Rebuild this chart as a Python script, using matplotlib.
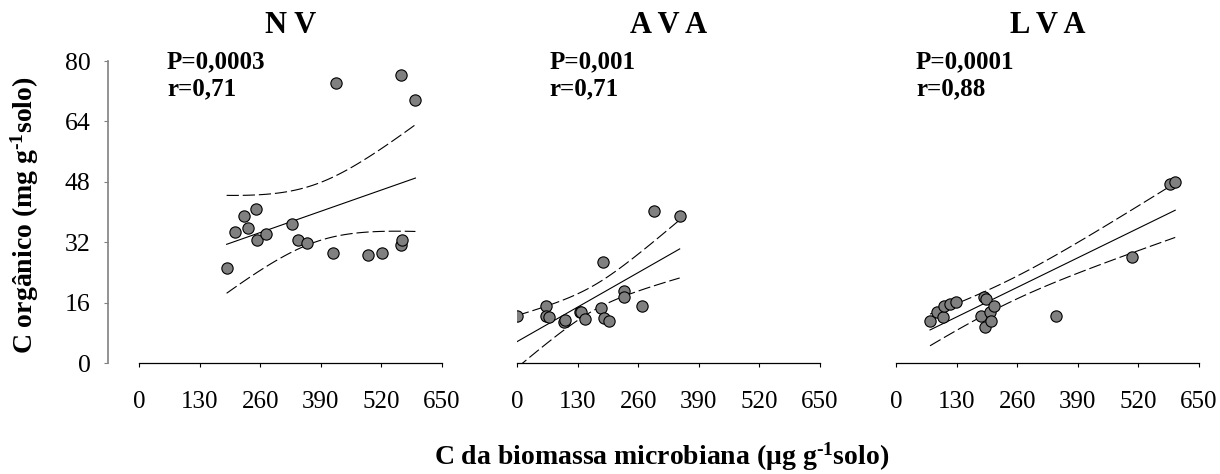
import numpy as np
import matplotlib
matplotlib.use('Agg')
import matplotlib.pyplot as plt

plt.rcParams['font.family'] = ['Liberation Serif', 'DejaVu Serif']
plt.rcParams['mathtext.fontset'] = 'custom'
plt.rcParams['mathtext.rm'] = 'Liberation Serif:bold'
plt.rcParams['mathtext.bf'] = 'Liberation Serif:bold'
plt.rcParams['mathtext.default'] = 'bf'

# --- data ---
titles = ['N V', 'A V A', 'L V A']
p_labels = ['P=0,0003', 'P=0,001', 'P=0,0001']
r_labels = ['r=0,71', 'r=0,71', 'r=0,88']

nv_x = [188, 206, 226, 233, 252, 254, 272, 329, 341, 361, 416, 422, 491, 522, 563, 565, 563, 593]
nv_y = [25.2, 34.7, 39.0, 35.7, 40.7, 32.6, 34.1, 36.8, 32.5, 31.7, 29.1, 74.2, 28.5, 29.1, 31.2, 32.5, 76.4, 69.8]

ava_x = [0, 62, 62, 68, 100, 103, 135, 138, 146, 180, 185, 187, 198, 229, 230, 268, 294, 349]
ava_y = [12.4, 15.1, 12.4, 12.3, 10.8, 11.3, 13.5, 13.4, 11.7, 14.7, 26.8, 11.8, 11.2, 19.1, 17.5, 15.1, 40.2, 39.0]

lva_x = [73, 89, 100, 103, 115, 129, 182, 188, 190, 193, 202, 204, 211, 344, 506, 587, 599]
lva_y = [11.2, 13.5, 12.3, 15.2, 15.7, 16.2, 12.4, 17.5, 9.5, 17.0, 13.5, 11.2, 15.2, 12.4, 28.0, 47.4, 47.9]

x_ticks = [0, 130, 260, 390, 520, 650]
y_ticks = [0, 16, 32, 48, 64, 80]
t_crit = [2.120, 2.120, 2.131]  # 95% t values for n-2 df

panels = [(nv_x, nv_y), (ava_x, ava_y), (lva_x, lva_y)]

fig = plt.figure(figsize=(12.2, 4.74), dpi=100)
W, H = 1220, 474
lefts = [139, 517, 896]
text_x = [0.092, 0.106, 0.066]

for i, (xs, ys) in enumerate(panels):
    ax = fig.add_axes([lefts[i] / W, (H - 363) / H, 303 / W, 302 / H])
    xs = np.array(xs, dtype=float)
    ys = np.array(ys, dtype=float)

    # linear fit with 95% confidence band
    slope, icpt = np.polyfit(xs, ys, 1)
    n = len(xs)
    resid = ys - (slope * xs + icpt)
    s = np.sqrt(np.sum(resid ** 2) / (n - 2))
    sxx = np.sum((xs - xs.mean()) ** 2)
    xf = np.linspace(xs.min(), xs.max(), 100)
    yf = slope * xf + icpt
    half = t_crit[i] * s * np.sqrt(1 / n + (xf - xs.mean()) ** 2 / sxx)

    ax.plot(xf, yf, color='black', lw=0.8, zorder=2)
    ax.plot(xf, yf + half, color='black', lw=0.8, dashes=(11, 3.5), zorder=2)
    ax.plot(xf, yf - half, color='black', lw=0.8, dashes=(11, 3.5), zorder=2)
    ax.scatter(xs, ys, s=66, facecolor='#808080', edgecolor='black', linewidth=0.8, zorder=3)

    ax.set_xlim(0, 650)
    ax.set_ylim(0, 80)
    ax.set_xticks(x_ticks)
    ax.tick_params(axis='x', direction='out', length=3, width=0.8, labelsize=18, pad=17)
    for sp in ['top', 'right']:
        ax.spines[sp].set_visible(False)
    ax.spines['bottom'].set_linewidth(0.9)

    if i == 0:
        ax.set_yticks(y_ticks)
        ax.spines['left'].set_position(('outward', 22))
        ax.spines['left'].set_color('#808080')
        ax.spines['left'].set_linewidth(1.2)
        ax.tick_params(axis='y', direction='out', length=3, width=0.8, color='#808080',
                       labelsize=18.5, pad=10)
    else:
        ax.spines['left'].set_visible(False)
        ax.set_yticks([])

    ax.set_title(titles[i], fontsize=22, fontweight='bold', pad=20)
    ax.text(text_x[i], 0.977, p_labels[i], transform=ax.transAxes, fontsize=18,
            fontweight='bold', va='baseline', ha='left')
    ax.text(text_x[i], 0.887, r_labels[i], transform=ax.transAxes, fontsize=18,
            fontweight='bold', va='baseline', ha='left')

fig.text(25 / W, 1 - 215 / H, 'C orgânico (mg g$^{\u2010 1}$solo)', rotation=90,
         fontsize=20, fontweight='bold', ha='center', va='center')
fig.text(662 / W, 1 - 465 / H, 'C da biomassa microbiana (μg g$^{\u2010 1}$solo)',
         fontsize=20, fontweight='bold', ha='center', va='baseline')

fig.savefig('out.png', dpi=100)
